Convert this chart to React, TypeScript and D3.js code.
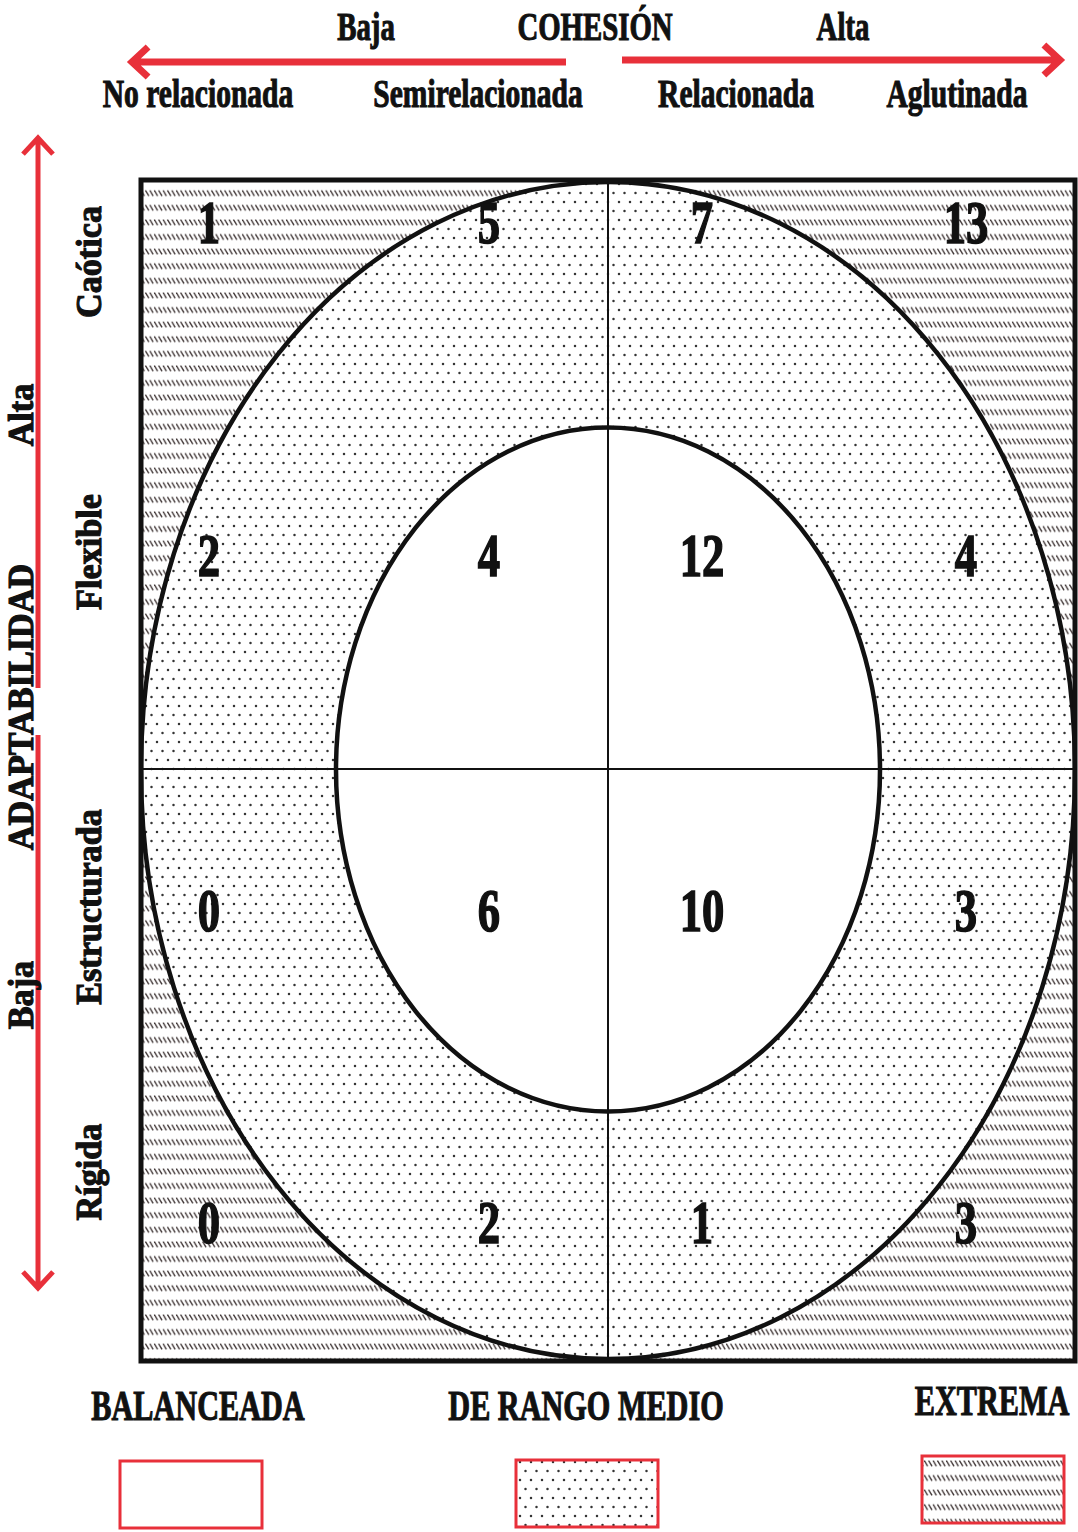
import React from "react";
import * as d3 from "d3";

const cohesionLevels = ["No relacionada", "Semirelacionada", "Relacionada", "Aglutinada"];
const adaptLevels = ["Caótica", "Flexible", "Estructurada", "Rígida"];
const counts: number[][] = [
  [1, 5, 7, 13],
  [2, 4, 12, 4],
  [0, 6, 10, 3],
  [0, 2, 1, 3],
];
const legendLabels = ["BALANCEADA", "DE RANGO MEDIO", "EXTREMA"];
const legendFills = ["#ffffff", "url(#dots)", "url(#hatch)"];

const W = 1078;
const H = 1532;
const RED = "#e8303a";
const FONT = "'Liberation Serif', 'Times New Roman', serif";

function CText({ x, y, size, children, sx = 0.72, rotate = 0, anchor = "middle", fill = "#111", sw = 1.1 }: any) {
  return (
    <text
      transform={`translate(${x},${y}) rotate(${rotate}) scale(${sx},1)`}
      textAnchor={anchor}
      fontFamily={FONT}
      fontWeight="bold"
      fontSize={size}
      fill={fill}
      stroke={fill}
      strokeWidth={sw}
    >
      {children}
    </text>
  );
}

export default function App() {
  const box = { x0: 141, x1: 1075, y0: 180, y1: 1361 };
  const cx = (box.x0 + box.x1) / 2;
  const cy = (box.y0 + box.y1) / 2;
  const colPos = [209, 489, 702, 966];
  const rowPos = [222, 555, 910, 1222];
  const rowLabelPos = [262, 552, 907, 1172];
  const topLabelPos = [198, 478, 736, 957];
  const xNum = d3.scaleOrdinal<string, number>().domain(cohesionLevels).range(colPos);
  const yNum = d3.scaleOrdinal<string, number>().domain(adaptLevels).range(rowPos);

  const outer = { rx: (box.x1 - box.x0) / 2, ry: (box.y1 - box.y0) / 2 - 2 };
  const inner = { rx: 272, ry: 342 };

  const arrow = (x1: number, y1: number, x2: number, y2: number) => {
    const ang = Math.atan2(y2 - y1, x2 - x1);
    const L = 22;
    const a1 = ang + Math.PI - 0.75;
    const a2 = ang + Math.PI + 0.75;
    const p = d3.path();
    p.moveTo(x1, y1);
    p.lineTo(x2, y2);
    p.moveTo(x2 + L * Math.cos(a1), y2 + L * Math.sin(a1));
    p.lineTo(x2, y2);
    p.lineTo(x2 + L * Math.cos(a2), y2 + L * Math.sin(a2));
    return p.toString();
  };

  const legendX = [120, 516, 922];
  const legendBoxY = [1461, 1460, 1456];
  const legendTextX = [198, 586, 992];
  const legendTextY = [1420, 1420, 1415];

  return (
    <svg width={W} height={H} style={{ position: "absolute", left: 0, top: 0, background: "#fff" }}>
      <defs>
        <pattern id="hatch" patternUnits="userSpaceOnUse" width={4.4} height={14.6}>
          <line x1={0.3} y1={0.5} x2={3.6} y2={6.2} stroke="#3a3030" strokeWidth={1.3} />
          <line x1={-4.1} y1={0.5} x2={-0.8} y2={6.2} stroke="#3a3030" strokeWidth={1.3} />
          <line x1={4.7} y1={0.5} x2={8.0} y2={6.2} stroke="#3a3030" strokeWidth={1.3} />
        </pattern>
        <pattern id="dots" patternUnits="userSpaceOnUse" width={11} height={18}>
          <circle cx={3} cy={4} r={1.25} fill="#333" />
          <circle cx={8.5} cy={13} r={1.25} fill="#333" />
        </pattern>
        <clipPath id="boxclip">
          <rect x={box.x0} y={box.y0} width={box.x1 - box.x0} height={box.y1 - box.y0} />
        </clipPath>
      </defs>

      {/* Top header */}
      <CText x={366} y={40} size={40}>Baja</CText>
      <CText x={595} y={40} size={40}>COHESIÓN</CText>
      <CText x={843} y={40} size={40}>Alta</CText>
      <path d={arrow(566, 62, 132, 62)} stroke={RED} strokeWidth={7} fill="none" strokeLinejoin="miter" />
      <path d={arrow(622, 60, 1060, 60)} stroke={RED} strokeWidth={7} fill="none" strokeLinejoin="miter" />
      {cohesionLevels.map((c, i) => (
        <CText key={c} x={topLabelPos[i]} y={107} size={41}>{c}</CText>
      ))}

      {/* Left axis */}
      <path d={arrow(38, 688, 38, 138)} stroke={RED} strokeWidth={5} fill="none" />
      <path d={arrow(38, 735, 38, 1288)} stroke={RED} strokeWidth={5} fill="none" />
      <CText x={33} y={415} size={36} sx={0.95} rotate={-90}>Alta</CText>
      <CText x={33} y={707} size={36} sx={0.95} rotate={-90}>ADAPTABILIDAD</CText>
      <CText x={33} y={995} size={36} sx={0.95} rotate={-90}>Baja</CText>
      {adaptLevels.map((a, i) => (
        <CText key={a} x={101} y={rowLabelPos[i]} size={36} sx={0.95} rotate={-90}>{a}</CText>
      ))}

      {/* Main diagram */}
      <g clipPath="url(#boxclip)">
        <rect x={box.x0} y={box.y0} width={box.x1 - box.x0} height={box.y1 - box.y0} fill="#fff" />
        <rect x={box.x0} y={box.y0} width={box.x1 - box.x0} height={box.y1 - box.y0} fill="url(#hatch)" />
        <ellipse cx={cx} cy={cy} rx={outer.rx} ry={outer.ry} fill="#fff" />
        <ellipse cx={cx} cy={cy} rx={outer.rx} ry={outer.ry} fill="url(#dots)" />
        <ellipse cx={cx} cy={cy - 1} rx={inner.rx} ry={inner.ry} fill="#fff" />
        <line x1={cx} y1={box.y0} x2={cx} y2={box.y1} stroke="#111" strokeWidth={2} />
        <line x1={box.x0} y1={769} x2={box.x1} y2={769} stroke="#111" strokeWidth={2} />
        <ellipse cx={cx} cy={cy} rx={outer.rx} ry={outer.ry} fill="none" stroke="#111" strokeWidth={4.5} />
        <ellipse cx={cx} cy={cy - 1} rx={inner.rx} ry={inner.ry} fill="none" stroke="#111" strokeWidth={4.5} />
      </g>
      <rect x={box.x0} y={box.y0} width={box.x1 - box.x0} height={box.y1 - box.y0} fill="none" stroke="#111" strokeWidth={5} />

      {counts.map((row, r) =>
        row.map((v, c) => (
          <CText
            key={`${r}-${c}`}
            x={xNum(cohesionLevels[c])}
            y={(yNum(adaptLevels[r]) as number) + 21}
            size={62}
            sx={0.72}
            sw={1.6}
          >
            {v}
          </CText>
        ))
      )}

      {/* Legend */}
      {legendLabels.map((l, i) => (
        <g key={l}>
          <CText x={legendTextX[i]} y={legendTextY[i]} size={42}>{l}</CText>
          <rect x={legendX[i]} y={legendBoxY[i]} width={142} height={67} fill="#fff" />
          <rect x={legendX[i]} y={legendBoxY[i]} width={142} height={67} fill={legendFills[i]} stroke={RED} strokeWidth={3} />
        </g>
      ))}
    </svg>
  );
}
